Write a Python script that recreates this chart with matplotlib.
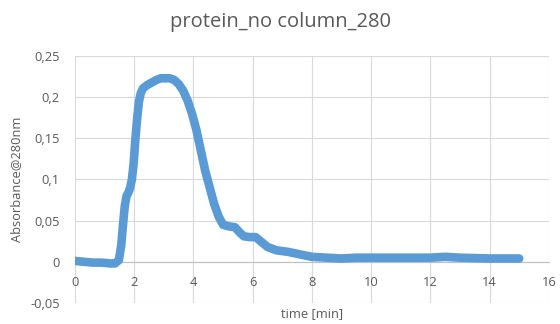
import matplotlib.pyplot as plt
from matplotlib.ticker import FixedLocator, FixedFormatter

# absorbance trace at 280 nm (time in min)
t = [0.0, 0.3, 0.6, 0.9, 1.2, 1.35, 1.48, 1.56, 1.62, 1.68, 1.74, 1.8, 1.86, 1.92,
     1.98, 2.04, 2.1, 2.16, 2.22, 2.3, 2.45, 2.6, 2.75, 2.9, 3.05, 3.2, 3.35, 3.5,
     3.65, 3.8, 3.95, 4.1, 4.25, 4.4, 4.55, 4.7, 4.85, 5.0, 5.2, 5.4, 5.55, 5.7,
     5.9, 6.1, 6.3, 6.5, 6.8, 7.2, 7.6, 8.0, 8.5, 9.0, 9.5, 10.0, 11.0, 12.0,
     12.5, 13.0, 14.0, 15.0]
a280 = [0.001, 0.0, -0.001, -0.001, -0.002, -0.002, 0.002, 0.02, 0.045, 0.068,
        0.08, 0.084, 0.09, 0.1, 0.12, 0.15, 0.175, 0.195, 0.205, 0.211, 0.215,
        0.218, 0.221, 0.223, 0.223, 0.223, 0.221, 0.216, 0.208, 0.196, 0.18,
        0.16, 0.135, 0.11, 0.09, 0.07, 0.055, 0.045, 0.043, 0.042, 0.036,
        0.031, 0.03, 0.03, 0.024, 0.018, 0.014, 0.012, 0.009, 0.006, 0.005,
        0.004, 0.005, 0.005, 0.005, 0.005, 0.006, 0.005, 0.004, 0.004]

xticks = [0, 2, 4, 6, 8, 10, 12, 14, 16]
yticks = [-0.05, 0, 0.05, 0.1, 0.15, 0.2, 0.25]
ylabels = ['-0,05', '0', '0,05', '0,1', '0,15', '0,2', '0,25']

plt.rcParams['font.family'] = ['Open Sans', 'DejaVu Sans']
txt = '#595959'
blue = '#5B9BD5'

fig = plt.figure(figsize=(5.6, 3.24), dpi=100)
ax = fig.add_axes([0.134, 0.065, 0.846, 0.762])

ax.plot(t, a280, color=blue, lw=6.2, solid_capstyle='round',
        solid_joinstyle='round', zorder=3)

ax.set_xlim(0, 16)
ax.set_ylim(-0.05, 0.25)
ax.xaxis.set_major_locator(FixedLocator(xticks))
ax.yaxis.set_major_locator(FixedLocator(yticks))
ax.yaxis.set_major_formatter(FixedFormatter(ylabels))
ax.grid(True, color='#d9d9d9', lw=0.8)
ax.set_axisbelow(True)

for s in ['top', 'right', 'left']:
    ax.spines[s].set_visible(False)
ax.spines['bottom'].set_position(('data', 0))
ax.spines['bottom'].set_color('#bfbfbf')
ax.tick_params(axis='both', length=0, labelsize=9.3, labelcolor=txt)
ax.tick_params(axis='x', pad=10)
ax.tick_params(axis='y', pad=11)

fig.text(0.5, 0.932, 'protein_no column_280', fontsize=14.5, color=txt,
         ha='center', va='center')
ax.set_xlabel('time [min]', fontsize=9.3, color=txt)
ax.xaxis.set_label_coords(0.5, -0.015, transform=ax.transAxes)
ax.xaxis.label.set_va('top')
ax.set_ylabel('Absorbance@280nm', fontsize=9.3, color=txt)
ax.yaxis.set_label_coords(-0.109, 0.5)

fig.savefig('out.png', dpi=100)
